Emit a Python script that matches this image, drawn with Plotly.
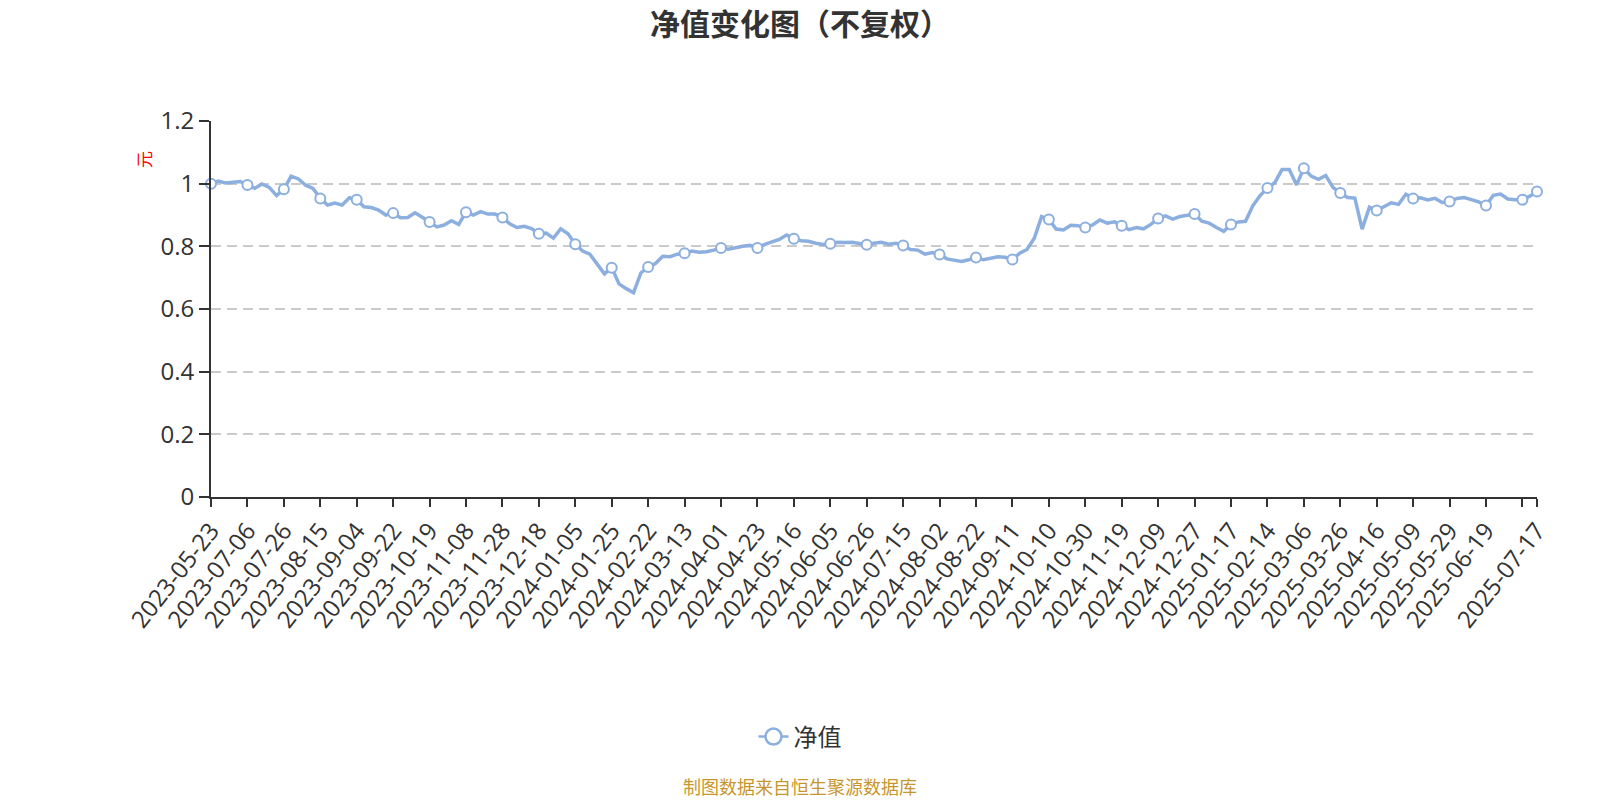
import numpy as np
import pandas as pd
import plotly.graph_objects as go

# ---- data ----
tick_labels = [
    "2023-05-23", "2023-07-06", "2023-07-26", "2023-08-15", "2023-09-04", "2023-09-22",
    "2023-10-19", "2023-11-08", "2023-11-28", "2023-12-18", "2024-01-05", "2024-01-25",
    "2024-02-22", "2024-03-13", "2024-04-01", "2024-04-23", "2024-05-16", "2024-06-05",
    "2024-06-26", "2024-07-15", "2024-08-02", "2024-08-22", "2024-09-11", "2024-10-10",
    "2024-10-30", "2024-11-19", "2024-12-09", "2024-12-27", "2025-01-17", "2025-02-14",
    "2025-03-06", "2025-03-26", "2025-04-16", "2025-05-09", "2025-05-29", "2025-06-19",
    "2025-07-17",
]
hidden_tick = "2025-07-09"   # tick + symbol drawn, label hidden (overlap)

# unit net value, sampled between consecutive marked dates
nav = [
    1.000, 1.008, 1.002, 1.004, 1.007,
    0.996, 0.985, 0.999, 0.988, 0.962,
    0.982, 1.024, 1.015, 0.995, 0.985,
    0.953, 0.932, 0.938, 0.932, 0.955,
    0.949, 0.926, 0.924, 0.916, 0.900,
    0.906, 0.891, 0.892, 0.907, 0.893,
    0.878, 0.862, 0.868, 0.882, 0.870,
    0.909, 0.900, 0.911, 0.903, 0.903,
    0.892, 0.872, 0.860, 0.864, 0.857,
    0.840, 0.842, 0.826, 0.856, 0.840,
    0.807, 0.785, 0.775, 0.745, 0.712,
    0.732, 0.680, 0.665, 0.652, 0.715,
    0.734, 0.745, 0.768, 0.767, 0.775,
    0.778, 0.785, 0.781, 0.783, 0.788,
    0.795, 0.791, 0.796, 0.800, 0.803,
    0.795, 0.806, 0.813, 0.822, 0.836,
    0.824, 0.818, 0.816, 0.810, 0.806,
    0.808, 0.813, 0.812, 0.813, 0.809,
    0.805, 0.810, 0.813, 0.807, 0.810,
    0.803, 0.790, 0.788, 0.775, 0.780,
    0.774, 0.760, 0.756, 0.752, 0.757,
    0.764, 0.757, 0.763, 0.767, 0.765,
    0.758, 0.778, 0.790, 0.826, 0.895,
    0.886, 0.855, 0.852, 0.867, 0.866,
    0.860, 0.868, 0.884, 0.874, 0.878,
    0.866, 0.853, 0.860, 0.856, 0.870,
    0.889, 0.897, 0.887, 0.895, 0.899,
    0.903, 0.880, 0.874, 0.860, 0.848,
    0.870, 0.878, 0.880, 0.930, 0.962,
    0.986, 1.003, 1.045, 1.045, 0.996,
    1.049, 1.024, 1.014, 1.026, 0.988,
    0.970, 0.956, 0.954, 0.855, 0.925,
    0.914, 0.925, 0.939, 0.934, 0.966,
    0.953, 0.955, 0.948, 0.953, 0.940,
    0.943, 0.953, 0.956, 0.949, 0.942,
    0.930, 0.963, 0.967, 0.951, 0.949,
    0.949, 0.960,
    0.975,
]

# ---- category (trading-day) dates for the samples ----
marker_dates = tick_labels[:-1] + [hidden_tick, tick_labels[-1]]
dates = []
for a, b in zip(marker_dates[:-1], marker_dates[1:]):
    days = pd.bdate_range(a, b)
    n_steps = 5 if len(days) > 10 else 2
    idx = np.linspace(0, len(days) - 1, n_steps + 1).round().astype(int)[:-1]
    dates += [d.strftime("%Y-%m-%d") for d in days[idx]]
dates.append(marker_dates[-1])
assert len(dates) == len(nav), (len(dates), len(nav))

marker_vals = [nav[dates.index(d)] for d in marker_dates]
tick_text = [d if d != hidden_tick else "" for d in marker_dates]

LINE = "#8cafdf"
FONT = "Open Sans, Noto Sans CJK SC, sans-serif"
CJK = "Noto Sans CJK SC, sans-serif"

fig = go.Figure()
fig.add_trace(go.Scatter(
    x=dates, y=nav, mode="lines", line=dict(color=LINE, width=3.5),
    showlegend=False, hoverinfo="x+y",
))
fig.add_trace(go.Scatter(
    x=marker_dates, y=marker_vals, mode="markers",
    marker=dict(symbol="circle", size=10, color="white", line=dict(color=LINE, width=2)),
    showlegend=False, cliponaxis=False,
))
# legend entry
fig.add_trace(go.Scatter(
    x=[None], y=[None], mode="lines+markers", name="净值",
    line=dict(color=LINE, width=2.5),
    marker=dict(symbol="circle", size=22, color="white", line=dict(color=LINE, width=2.5)),
))

fig.update_layout(
    width=1600, height=800,
    paper_bgcolor="white", plot_bgcolor="white",
    margin=dict(l=211, r=63, t=121, b=303, autoexpand=False),
    font=dict(family=FONT, color="#333"),
    title=dict(text="<b>净值变化图（不复权）</b>", x=0.5, xanchor="center",
               y=1 - 24 / 800, yanchor="middle",
               font=dict(family=CJK, size=30, color="#333")),
    xaxis=dict(
        type="category", categoryorder="array", categoryarray=dates,
        range=[0, len(dates) - 1], autorange=False,
        tickmode="array", tickvals=marker_dates, ticktext=tick_text,
        tickangle=-52, tickfont=dict(size=24, color="#333"),
        showline=True, linecolor="#333", linewidth=2,
        ticks="outside", ticklen=8, tickwidth=2, tickcolor="#333",
        showgrid=False, zeroline=False,
    ),
    yaxis=dict(
        range=[0, 1.2], autorange=False, dtick=0.2, tick0=0,
        tickfont=dict(size=24, color="#333"),
        showline=True, linecolor="#333", linewidth=2,
        ticks="outside", ticklen=10, tickwidth=2, tickcolor="#333",
        showgrid=True, gridcolor="#cacaca", gridwidth=1.5, griddash="10px,6px",
        zeroline=False,
    ),
    legend=dict(orientation="h", xref="container", yref="container",
                x=0.5, xanchor="center", y=1 - 737 / 800, yanchor="middle",
                font=dict(size=24, color="#333"), bgcolor="rgba(0,0,0,0)"),
    annotations=[
        dict(text="元", xref="paper", yref="paper",
             x=(143 - 211) / 1326, y=(497 - 160) / 376,
             xanchor="center", yanchor="middle",
             showarrow=False, textangle=-90, font=dict(size=17, color="#ff0000", family=CJK)),
        dict(text="制图数据来自恒生聚源数据库", xref="paper", yref="paper",
             x=(800 - 211) / 1326, y=(497 - 786) / 376, xanchor="center", yanchor="middle",
             showarrow=False, borderpad=0,
             font=dict(size=18, color="#c8962e", family=CJK)),
    ],
)

fig.write_html("out.html", config={"displayModeBar": False},
               post_script="document.body.style.margin='0';")
